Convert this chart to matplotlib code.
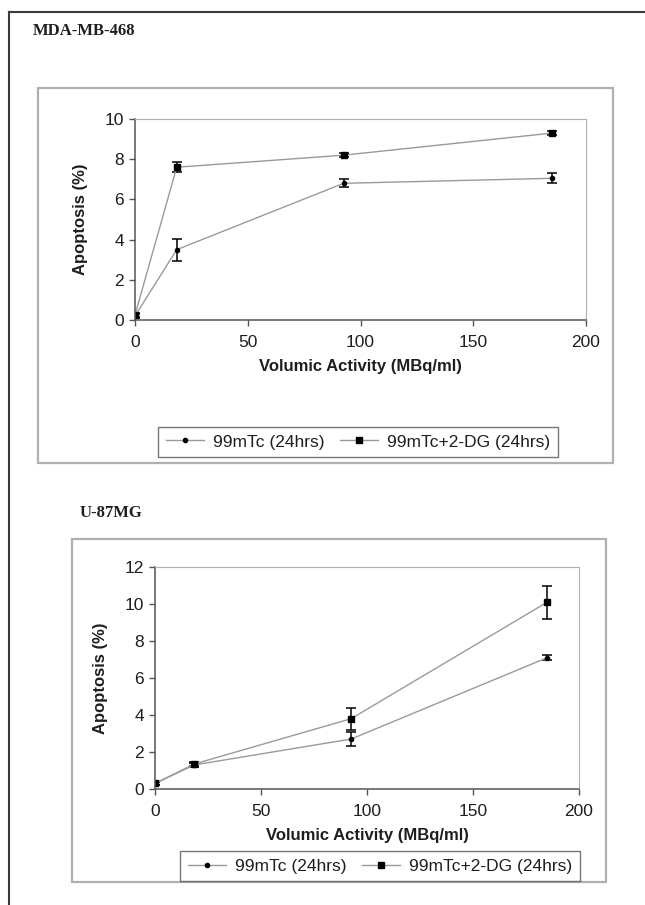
import matplotlib.pyplot as plt
from matplotlib.patches import Rectangle
from matplotlib.lines import Line2D

# x positions (MBq/ml)
dose = [0, 18.5, 92.5, 185]

# MDA-MB-468
mda_tc = [0.2, 3.5, 6.8, 7.05]
mda_tc_err = [0.1, 0.55, 0.2, 0.25]
mda_dg = [0.25, 7.6, 8.2, 9.3]
mda_dg_err = [0.1, 0.25, 0.1, 0.1]

# U-87MG
u87_tc = [0.3, 1.3, 2.7, 7.1]
u87_tc_err = [0.1, 0.1, 0.4, 0.15]
u87_dg = [0.3, 1.35, 3.8, 10.1]
u87_dg_err = [0.1, 0.1, 0.6, 0.9]

labels = ["99mTc (24hrs)", "99mTc+2-DG (24hrs)"]

W, H = 645, 905
plt.rcParams['font.family'] = ['Liberation Sans', 'DejaVu Sans']
fig = plt.figure(figsize=(W / 100, H / 100), dpi=100)

LINE = '#9a9a9a'
TXT = '#1e1e1e'


def fx(px):
    return px / W


def fy(py):
    return 1 - py / H


# outer page frame (top and left only)
fig.add_artist(Line2D([fx(9), 1], [fy(12), fy(12)], color='#3a3a3a', lw=1.5))
fig.add_artist(Line2D([fx(9), fx(9)], [fy(12), 0], color='#3a3a3a', lw=1.5))

handles = [
    Line2D([], [], color=LINE, lw=1, marker='o', ms=3, mfc='black', mec='black'),
    Line2D([], [], color=LINE, lw=1, marker='s', ms=4.5, mfc='black', mec='black'),
]


def panel(box, axpos, title, title_xy, tc, tc_err, dg, dg_err, ymax, legend_xy):
    x0, y0, x1, y1 = box
    fig.patches.append(Rectangle((fx(x0), fy(y1)), fx(x1) - fx(x0), fy(y0) - fy(y1),
                                 transform=fig.transFigure, fill=False,
                                 edgecolor='#b0b0b0', lw=1.6))
    fig.text(fx(title_xy[0]), fy(title_xy[1]), title, family='Liberation Serif',
             fontweight='bold', fontsize=12, va='center', color=TXT)

    l, r, t, b = axpos
    ax = fig.add_axes([fx(l), fy(b), fx(r) - fx(l), fy(t) - fy(b)])
    ax.errorbar(dose, tc, yerr=tc_err, color=LINE, lw=1, marker='o', ms=3,
                mec='black', mfc='black', ecolor='black', elinewidth=1.1, capsize=3.5,
                capthick=1.1)
    ax.errorbar(dose, dg, yerr=dg_err, color=LINE, lw=1, marker='s', ms=4.5,
                mec='black', mfc='black', ecolor='black', elinewidth=1.1, capsize=3.5,
                capthick=1.1)
    ax.set_xlim(0, 200)
    ax.set_ylim(0, ymax)
    ax.set_xticks([0, 50, 100, 150, 200])
    ax.set_yticks(range(0, ymax + 1, 2))
    for s in ['top', 'right']:
        ax.spines[s].set_color('#b0b0b0')
    for s in ['left', 'bottom']:
        ax.spines[s].set_color('#555555')
        ax.spines[s].set_linewidth(1.1)
    ax.tick_params(length=4, width=1, color='#555555', labelsize=12.5, pad=4,
                   labelcolor=TXT)
    ax.tick_params(axis='x', pad=7)
    ax.set_xlabel("Volumic Activity (MBq/ml)", fontsize=12, fontweight='bold',
                  color=TXT, labelpad=6)
    ax.set_ylabel("Apoptosis (%)", fontsize=12, fontweight='bold', color=TXT,
                  labelpad=12)
    leg = fig.legend(handles, labels, loc='center',
                     bbox_to_anchor=(fx(legend_xy[0]), fy(legend_xy[1])), ncol=2,
                     fontsize=12.5, frameon=True, fancybox=False, handlelength=2.2,
                     columnspacing=0.9, handletextpad=0.5, borderpad=0.45,
                     borderaxespad=0)
    leg.get_frame().set_edgecolor('#555555')
    leg.get_frame().set_linewidth(1)
    for t in leg.get_texts():
        t.set_color(TXT)
    return ax


panel((38, 88, 613, 463), (135, 586, 119, 320), "MDA-MB-468", (33, 31),
      mda_tc, mda_tc_err, mda_dg, mda_dg_err, 10, (358, 442))
panel((72, 539, 606, 882), (155, 579, 567, 789), "U-87MG", (80, 513),
      u87_tc, u87_tc_err, u87_dg, u87_dg_err, 12, (380, 866))

fig.savefig("out.png", dpi=100)
